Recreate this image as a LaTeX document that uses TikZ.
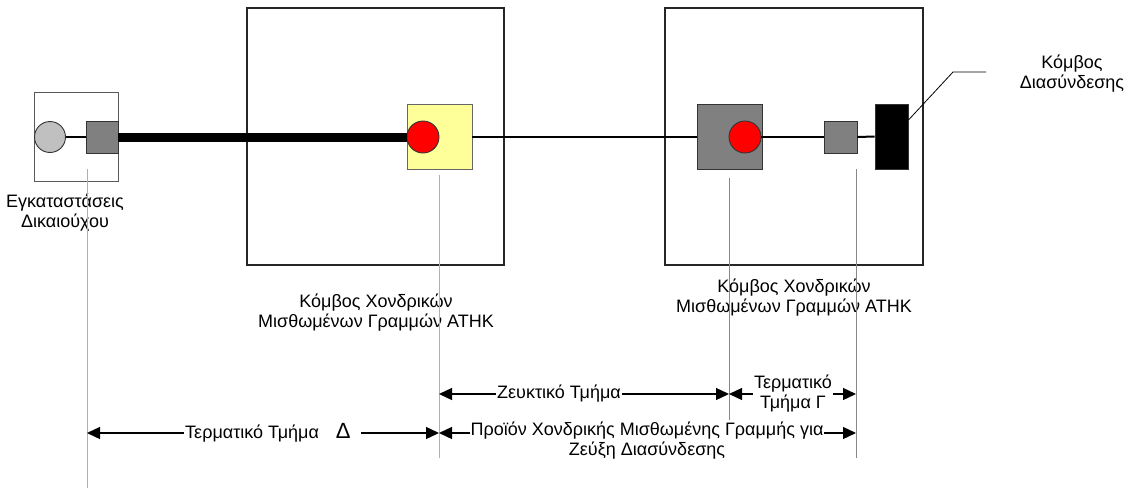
\documentclass[tikz,border=0pt]{standalone}
\usepackage{fontspec}
\setmainfont{Liberation Sans}
\usetikzlibrary{arrows.meta,calc}
\definecolor{yel}{HTML}{FFFF99}
\definecolor{midgray}{HTML}{808080}
\definecolor{lightg}{HTML}{C0C0C0}
\definecolor{guidel}{HTML}{B0B0B0}
\definecolor{guided}{HTML}{888888}
\begin{document}
\begin{tikzpicture}[x=1pt,y=-1pt,
  box/.style={draw=black!85,line width=1.2pt,inner sep=0pt},
  part/.style={draw=black!80,line width=0.9pt,inner sep=0pt},
  lbl/.style={font=\fontsize{18}{20}\selectfont,align=center},
  tag/.style={lbl,fill=white,inner xsep=1pt,inner ysep=0pt},
  dim/.style={line width=1.3pt,{Triangle[length=13pt,width=12pt]}-{Triangle[length=13pt,width=12pt]}},
  guide/.style={line width=1pt,draw=#1}]
\useasboundingbox (0,0) rectangle (1130,488);

% enclosures
\node[box,draw=black!65,line width=1pt,minimum width=84pt,minimum height=89pt] (site) at (76,136.5) {};
\node[box,minimum width=257pt,minimum height=257pt] (ws1) at (375.5,136.5) {};
\node[box,minimum width=258pt,minimum height=257pt] (ws2) at (794,136.5) {};

% equipment
\node[part,circle,fill=lightg,minimum size=31pt] (cpe) at (50,137) {};
\node[part,rectangle,fill=midgray,minimum width=32pt,minimum height=32pt] (sq1) at (102,137) {};
\node[part,rectangle,draw=black!60,fill=yel,minimum width=65pt,minimum height=65pt] (yb) at (439.5,136.5) {};
\node[part,circle,fill=red,minimum size=32pt] (red1) at (423,137) {};
\node[part,rectangle,fill=midgray,minimum width=65pt,minimum height=65pt] (gsq) at (729.5,136.5) {};
\node[part,circle,fill=red,minimum size=32pt] (red2) at (745,137) {};
\node[part,rectangle,fill=midgray,minimum width=33pt,minimum height=32pt] (sq2) at (840.5,137) {};
\node[part,rectangle,fill=black,minimum width=33pt,minimum height=65pt] (blk) at (891.5,136.5) {};

% links
\draw[line width=2pt] (cpe.east) -- (sq1.west);
\draw[line width=9pt] (sq1.east) -- (red1.west);
\draw[line width=2pt] (yb.east) -- (gsq.west);
\draw[line width=2pt] (red2.east) -- (sq2.west);
\draw[line width=2pt] (sq2.east) -- (blk.west);

% leader to interconnection node
\coordinate (ld0) at ($(blk.north east)!0.25!(blk.south east)$);
\coordinate (ld1) at (953,72);
\coordinate (ld2) at (986,72);
\draw[line width=0.8pt] (ld0) -- (ld1) -- (ld2);
\node[lbl] (ixn) at (1072,73.5) {Κόμβος\\Διασύνδεσης};

% labels
\node[lbl] (sitel) at (65,212.5) {Εγκαταστάσεις\\Δικαιούχου};
\node[lbl] (ws1l) at (376,312.5) {Κόμβος Χονδρικών\\Μισθωμένων Γραμμών ATHK};
\node[lbl] (ws2l) at (794,297.5) {Κόμβος Χονδρικών\\Μισθωμένων Γραμμών ATHK};

% guide lines
\coordinate (g1t) at (87,169);  \coordinate (g1b) at (87,488);
\coordinate (g2t) at (439,175); \coordinate (g2b) at (439,458);
\coordinate (g3t) at (729,178); \coordinate (g3b) at (729,420);
\coordinate (g4t) at (856,169); \coordinate (g4b) at (856,458);
\draw[guide=guidel] (g1t) -- (g1b);
\draw[guide=guidel] (g2t) -- (g2b);
\draw[guide=guided] (g3t) -- (g3b);
\draw[guide=guided] (g4t) -- (g4b);

% dimension arrows
\draw[dim] (g2t |- 0,394) coordinate (z1) -- (g3t |- 0,394) coordinate (z2);
\node[tag] (zl) at (559,394) {Ζευκτικό Τμήμα};
\draw[dim] (g3t |- 0,394) coordinate (c1) -- (g4t |- 0,394) coordinate (c2);
\node[tag] (cl) at (793,394) {Τερματικό\\Τμήμα Γ};
\draw[dim] (g1t |- 0,433) coordinate (d1) -- (g2t |- 0,433) coordinate (d2);
\node[tag,anchor=west] (dl) at (184,433) {Τερματικό Τμήμα\hspace{17pt}{\fontsize{22}{22}\selectfont Δ}\hspace{9pt}};
\draw[dim] (g2t |- 0,433) coordinate (p1) -- (g4t |- 0,433) coordinate (p2);
\node[tag] (pl) at (647,441) {Προϊόν Χονδρικής Μισθωμένης Γραμμής για\\Ζεύξη Διασύνδεσης};
\end{tikzpicture}
\end{document}
